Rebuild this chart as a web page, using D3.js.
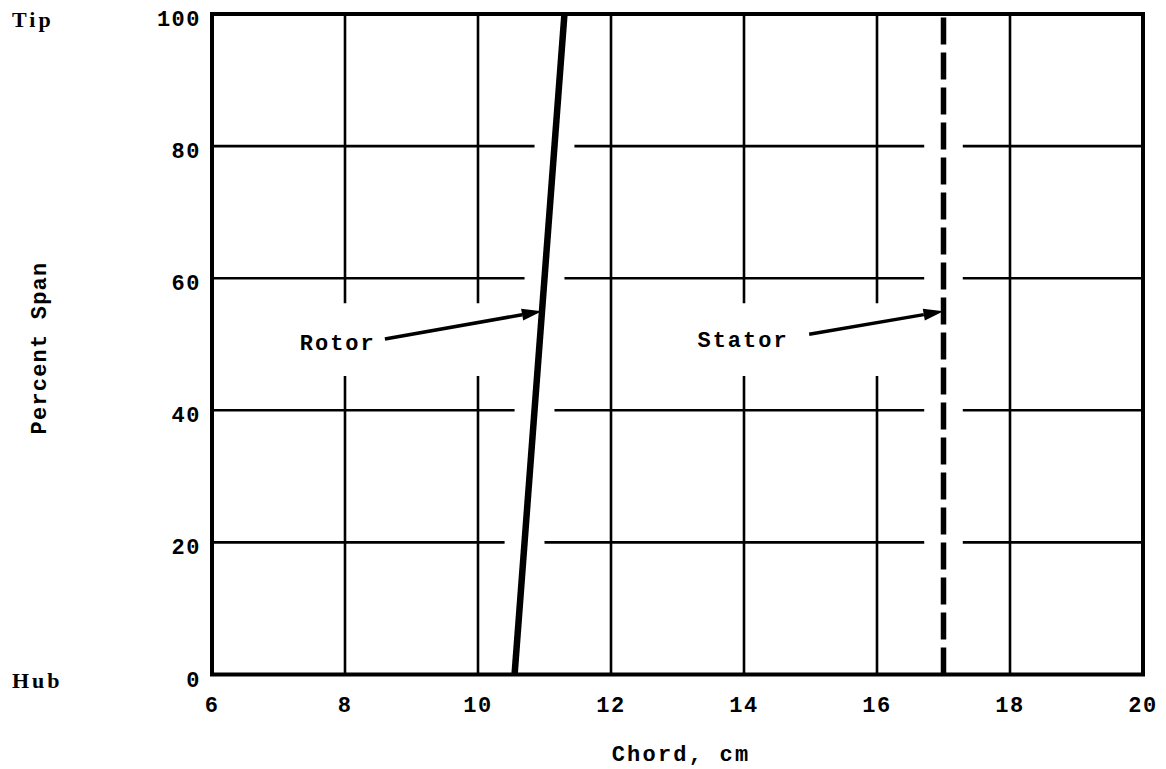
<!DOCTYPE html>
<html>
<head>
<meta charset="utf-8">
<script src="https://cdn.jsdelivr.net/npm/d3@7"></script>
<style>
  html, body { margin: 0; padding: 0; background: #fff; }
  svg { display: block; }
  .mono { font-family: "Liberation Mono", "Courier New", monospace; fill: #000; }
</style>
</head>
<body>
<div id="chart"></div>
<script>
// chord distribution
var rotorSpan  = [0, 100];
var rotorChord = [10.55, 11.3];
var statorSpan  = [0, 100];
var statorChord = [17.0, 17.0];

var xTicks = [6, 8, 10, 12, 14, 16, 18, 20];
var yTicks = [0, 20, 40, 60, 80, 100];
var spanNames = ["Hub", "Tip"];

// labels with arrows pointing at the blades
var noteText   = ["Rotor", "Stator"];
var noteChord  = [7.32, 13.3];
var noteSpan   = [49.2, 49.6];
var arrowFromX = [8.6, 14.98];
var arrowFromY = [50.8, 51.5];
var arrowToX   = [10.96, 17.0];
var arrowToY   = [55, 55];

var W = 1166, H = 769;
var x = d3.scaleLinear().domain([6, 20]).range([212, 1143]);
var y = d3.scaleLinear().domain([0, 100]).range([674.5, 14]);

var svg = d3.select("#chart").append("svg")
    .attr("width", W).attr("height", H);

function rotorAt(s) {
  return rotorChord[0] + (rotorChord[1] - rotorChord[0]) * (s - rotorSpan[0]) / (rotorSpan[1] - rotorSpan[0]);
}

// cut a segment [a,b] by a list of [lo,hi] gaps
function cut(a, b, gaps) {
  var segs = [[a, b]];
  gaps.forEach(function(g) {
    var out = [];
    segs.forEach(function(s) {
      if (g[1] <= s[0] || g[0] >= s[1]) { out.push(s); return; }
      if (g[0] > s[0]) out.push([s[0], g[0]]);
      if (g[1] < s[1]) out.push([g[1], s[1]]);
    });
    segs = out;
  });
  return segs;
}

var grid = svg.append("g").attr("stroke", "#000").attr("stroke-width", 2.6).attr("fill", "none");

// horizontal grid, broken where the blade lines cross
yTicks.slice(1, -1).forEach(function(v) {
  var rx = rotorAt(v);
  var gaps = [[rx - 0.3, rx + 0.3], [statorChord[0] - 0.29, statorChord[0] + 0.29]];
  cut(6, 20, gaps).forEach(function(s) {
    grid.append("line")
      .attr("x1", x(s[0])).attr("x2", x(s[1]))
      .attr("y1", y(v)).attr("y2", y(v));
  });
});

// vertical grid, broken around the labels
xTicks.slice(1, -1).forEach(function(v) {
  var gaps = (v === 8 || v === 10 || v === 14 || v === 16) ? [[45.2, 56.2]] : [];
  cut(0, 100, gaps).forEach(function(s) {
    grid.append("line")
      .attr("x1", x(v)).attr("x2", x(v))
      .attr("y1", y(s[0])).attr("y2", y(s[1]));
  });
});

// frame
svg.append("rect")
  .attr("x", x(6)).attr("y", y(100))
  .attr("width", x(20) - x(6)).attr("height", y(0) - y(100))
  .attr("fill", "none").attr("stroke", "#000").attr("stroke-width", 4);

// blades
var line = d3.line().x(function(d) { return x(d[0]); }).y(function(d) { return y(d[1]); });

svg.append("path")
  .datum(d3.zip(rotorChord, rotorSpan))
  .attr("d", line)
  .attr("fill", "none").attr("stroke", "#000").attr("stroke-width", 6.5);

svg.append("path")
  .datum(d3.zip(statorChord, statorSpan))
  .attr("d", line)
  .attr("fill", "none").attr("stroke", "#000").attr("stroke-width", 5.5)
  .attr("stroke-dasharray", "27,8");

// tick labels
svg.selectAll(".xt").data(xTicks).enter().append("text")
  .attr("class", "mono xt")
  .attr("x", function(d) { return x(d); })
  .attr("y", 712)
  .attr("text-anchor", "middle")
  .attr("font-size", 22).attr("font-weight", "bold")
  .attr("letter-spacing", 1.5)
  .text(function(d) { return d; });

svg.selectAll(".yt").data(yTicks).enter().append("text")
  .attr("class", "mono yt")
  .attr("x", 201)
  .attr("y", function(d) { return y(d) + 12; })
  .attr("text-anchor", "end")
  .attr("font-size", 22).attr("font-weight", "bold")
  .attr("letter-spacing", 1.5)
  .text(function(d) { return d; });

// Hub / Tip
svg.selectAll(".sn").data(spanNames).enter().append("text")
  .attr("x", 12)
  .attr("y", function(d, i) { return y(i * 100) + 13; })
  .attr("font-family", "Liberation Serif, serif")
  .attr("font-weight", "bold").attr("font-size", 22)
  .attr("letter-spacing", 3)
  .text(function(d) { return d; });

// axis titles
svg.append("text").attr("class", "mono")
  .attr("x", 681).attr("y", 761)
  .attr("text-anchor", "middle")
  .attr("font-size", 22).attr("font-weight", "bold").attr("letter-spacing", 2.2)
  .text("Chord, cm");

svg.append("text").attr("class", "mono")
  .attr("transform", "translate(46,348) rotate(-90)")
  .attr("text-anchor", "middle")
  .attr("font-size", 22).attr("font-weight", "bold").attr("letter-spacing", 1.2)
  .text("Percent Span");

// notes
var notes = svg.append("g");
noteText.forEach(function(t, i) {
  notes.append("text").attr("class", "mono")
    .attr("x", x(noteChord[i])).attr("y", y(noteSpan[i]))
    .attr("font-size", 22).attr("font-weight", "bold").attr("letter-spacing", 2)
    .text(t);

  var x0 = x(arrowFromX[i]), y0 = y(arrowFromY[i]);
  var x1 = x(arrowToX[i]), y1 = y(arrowToY[i]);
  var a = Math.atan2(y1 - y0, x1 - x0);
  var len = 20, half = 6;
  var bx = x1 - len * Math.cos(a), by = y1 - len * Math.sin(a);
  notes.append("line")
    .attr("x1", x0).attr("y1", y0).attr("x2", bx).attr("y2", by)
    .attr("stroke", "#000").attr("stroke-width", 3.5);
  notes.append("path")
    .attr("d", "M" + x1 + "," + y1 +
      "L" + (bx + half * Math.sin(a)) + "," + (by - half * Math.cos(a)) +
      "L" + (bx - half * Math.sin(a)) + "," + (by + half * Math.cos(a)) + "Z")
    .attr("fill", "#000");
});
</script>
</body>
</html>
